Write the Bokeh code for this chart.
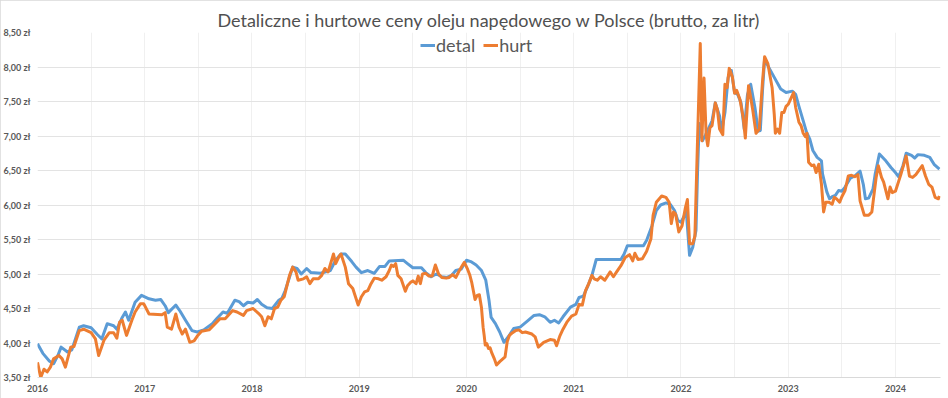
from bokeh.plotting import figure
from bokeh.models import FixedTicker, Range1d, Legend, LegendItem
from bokeh.embed import file_html
from bokeh.resources import INLINE

# ---------------- data (decimal years, PLN per litre) ----------------
detal_t = [2016.00, 2016.05, 2016.11, 2016.15, 2016.19, 2016.22, 2016.28, 2016.32, 2016.39, 2016.43,
           2016.50, 2016.56, 2016.60, 2016.65, 2016.71, 2016.74, 2016.79, 2016.82, 2016.85, 2016.91,
           2016.97, 2017.04, 2017.10, 2017.15, 2017.19, 2017.22, 2017.29, 2017.33, 2017.38, 2017.44,
           2017.49, 2017.55, 2017.63, 2017.67, 2017.73, 2017.77, 2017.84, 2017.88, 2017.92, 2017.96,
           2018.01, 2018.05, 2018.09, 2018.14, 2018.19, 2018.25, 2018.28, 2018.31, 2018.38, 2018.42,
           2018.46, 2018.51, 2018.55, 2018.64, 2018.73, 2018.78, 2018.83, 2018.87, 2018.93, 2018.97,
           2019.02, 2019.08, 2019.14, 2019.19, 2019.24, 2019.28, 2019.41, 2019.45, 2019.50, 2019.58,
           2019.62, 2019.67, 2019.72, 2019.77, 2019.82, 2019.86, 2019.90, 2019.95, 2020.00, 2020.04,
           2020.09, 2020.14, 2020.18, 2020.21, 2020.23, 2020.27, 2020.31, 2020.35, 2020.39, 2020.44,
           2020.50, 2020.57, 2020.63, 2020.68, 2020.73, 2020.78, 2020.82, 2020.86, 2020.90, 2020.97,
           2021.02, 2021.05, 2021.09, 2021.13, 2021.17, 2021.21, 2021.40, 2021.44, 2021.47, 2021.50,
           2021.65, 2021.68, 2021.73, 2021.77, 2021.81, 2021.86, 2021.90, 2021.94, 2021.97, 2022.00,
           2022.05, 2022.08, 2022.11, 2022.14, 2022.155, 2022.17, 2022.20, 2022.23, 2022.29, 2022.32,
           2022.36, 2022.38, 2022.41, 2022.44, 2022.47, 2022.50, 2022.53, 2022.56, 2022.59, 2022.62,
           2022.65, 2022.69, 2022.72, 2022.74, 2022.76, 2022.78, 2022.81, 2022.87, 2022.93, 2022.98,
           2023.04, 2023.07, 2023.10, 2023.14, 2023.17, 2023.20, 2023.23, 2023.27, 2023.31, 2023.32,
           2023.36, 2023.385, 2023.41, 2023.44, 2023.47, 2023.50, 2023.53, 2023.58, 2023.62, 2023.67,
           2023.70, 2023.72, 2023.75, 2023.79, 2023.81, 2023.85, 2023.91, 2023.96, 2024.00, 2024.03,
           2024.07, 2024.10, 2024.15, 2024.18, 2024.21, 2024.27, 2024.32, 2024.36, 2024.41]
detal_v = [3.99, 3.85, 3.74, 3.70, 3.82, 3.94, 3.87, 3.90, 4.23, 4.25,
           4.22, 4.12, 4.06, 4.28, 4.25, 4.20, 4.37, 4.45, 4.33, 4.59,
           4.69, 4.64, 4.62, 4.63, 4.54, 4.44, 4.55, 4.46, 4.33, 4.18,
           4.16, 4.19, 4.28, 4.35, 4.45, 4.43, 4.62, 4.60, 4.54, 4.59,
           4.58, 4.63, 4.56, 4.51, 4.50, 4.62, 4.65, 4.76, 5.10, 5.08,
           5.00, 5.08, 5.02, 5.01, 5.05, 5.20, 5.29, 5.29, 5.18, 5.10,
           5.02, 5.05, 5.01, 5.11, 5.11, 5.19, 5.20, 5.15, 5.09, 5.09,
           5.02, 4.96, 5.00, 4.96, 4.95, 4.98, 5.05, 5.07, 5.20, 5.18,
           5.13, 5.05, 4.91, 4.62, 4.37, 4.28, 4.16, 4.01, 4.09, 4.21,
           4.23, 4.32, 4.40, 4.41, 4.38, 4.30, 4.33, 4.29, 4.38, 4.52,
           4.56, 4.66, 4.68, 4.82, 4.98, 5.21, 5.21, 5.21, 5.29, 5.41,
           5.41, 5.49, 5.70, 5.92, 6.00, 6.03, 6.01, 5.92, 5.78, 5.75,
           5.90, 5.27, 5.39, 5.63, 6.50, 7.18, 6.93, 7.02, 7.22, 7.48,
           7.29, 7.07, 7.34, 7.85, 7.95, 7.63, 7.60, 7.48, 7.10, 7.60,
           7.75, 7.41, 7.07, 7.08, 7.65, 8.12, 8.02, 7.85, 7.68, 7.63,
           7.65, 7.60, 7.43, 7.22, 7.06, 6.96, 6.79, 6.69, 6.64, 6.45,
           6.19, 6.09, 6.12, 6.14, 6.21, 6.20, 6.26, 6.39, 6.42, 6.49,
           6.30, 6.09, 6.10, 6.23, 6.44, 6.74, 6.64, 6.54, 6.47, 6.41,
           6.57, 6.75, 6.72, 6.68, 6.73, 6.72, 6.69, 6.59, 6.52]

hurt_t = [2016.00, 2016.03, 2016.06, 2016.09, 2016.12, 2016.15, 2016.20, 2016.23, 2016.26, 2016.31,
          2016.34, 2016.39, 2016.43, 2016.50, 2016.54, 2016.57, 2016.62, 2016.67, 2016.71, 2016.74,
          2016.765, 2016.79, 2016.83, 2016.88, 2016.91, 2016.96, 2016.99, 2017.04, 2017.16, 2017.19,
          2017.21, 2017.25, 2017.29, 2017.32, 2017.35, 2017.38, 2017.42, 2017.46, 2017.49, 2017.53,
          2017.60, 2017.70, 2017.75, 2017.82, 2017.86, 2017.92, 2017.95, 2018.01, 2018.06, 2018.09,
          2018.12, 2018.15, 2018.18, 2018.21, 2018.24, 2018.27, 2018.30, 2018.35, 2018.38, 2018.41,
          2018.43, 2018.48, 2018.51, 2018.54, 2018.57, 2018.62, 2018.65, 2018.68, 2018.71, 2018.76,
          2018.78, 2018.81, 2018.83, 2018.87, 2018.90, 2018.94, 2018.99, 2019.02, 2019.05, 2019.08,
          2019.11, 2019.14, 2019.18, 2019.21, 2019.25, 2019.28, 2019.30, 2019.32, 2019.34, 2019.36,
          2019.39, 2019.43, 2019.45, 2019.48, 2019.50, 2019.53, 2019.55, 2019.57, 2019.59, 2019.62,
          2019.65, 2019.68, 2019.71, 2019.74, 2019.77, 2019.81, 2019.84, 2019.87, 2019.90, 2019.93,
          2019.96, 2019.98, 2020.01, 2020.03, 2020.05, 2020.08, 2020.10, 2020.12, 2020.14, 2020.155,
          2020.165, 2020.175, 2020.19, 2020.205, 2020.22, 2020.235, 2020.26, 2020.28, 2020.31, 2020.36,
          2020.38, 2020.40, 2020.43, 2020.46, 2020.49, 2020.52, 2020.55, 2020.61, 2020.64, 2020.67,
          2020.72, 2020.78, 2020.82, 2020.84, 2020.87, 2020.90, 2020.94, 2020.98, 2021.02, 2021.05,
          2021.08, 2021.11, 2021.14, 2021.17, 2021.19, 2021.22, 2021.25, 2021.29, 2021.34, 2021.37,
          2021.40, 2021.44, 2021.48, 2021.52, 2021.55, 2021.57, 2021.60, 2021.64, 2021.68, 2021.72,
          2021.74, 2021.77, 2021.82, 2021.86, 2021.89, 2021.91, 2021.93, 2021.95, 2021.98, 2022.01,
          2022.04, 2022.06, 2022.08, 2022.11, 2022.13, 2022.15, 2022.18, 2022.195, 2022.215, 2022.235,
          2022.25, 2022.27, 2022.29, 2022.32, 2022.34, 2022.36, 2022.39, 2022.41, 2022.43, 2022.45,
          2022.48, 2022.50, 2022.52, 2022.55, 2022.58, 2022.60, 2022.63, 2022.65, 2022.67, 2022.70,
          2022.73, 2022.76, 2022.78, 2022.81, 2022.85, 2022.87, 2022.88, 2022.90, 2022.92, 2022.94,
          2022.96, 2022.98, 2023.00, 2023.05, 2023.07, 2023.10, 2023.12, 2023.14, 2023.16, 2023.175,
          2023.19, 2023.22, 2023.24, 2023.26, 2023.285, 2023.31, 2023.33, 2023.35, 2023.38, 2023.41,
          2023.43, 2023.45, 2023.48, 2023.50, 2023.53, 2023.56, 2023.59, 2023.62, 2023.65, 2023.67,
          2023.71, 2023.75, 2023.78, 2023.82, 2023.84, 2023.87, 2023.89, 2023.93, 2023.95, 2023.97,
          2024.00, 2024.05, 2024.10, 2024.13, 2024.16, 2024.19, 2024.25, 2024.28, 2024.31, 2024.34,
          2024.37, 2024.40, 2024.41]
hurt_v = [3.72, 3.50, 3.62, 3.58, 3.65, 3.77, 3.82, 3.77, 3.65, 3.94,
          3.95, 4.18, 4.20, 4.15, 4.06, 3.82, 4.04, 4.15, 4.15, 4.07,
          4.30, 4.33, 4.11, 4.33, 4.45, 4.57, 4.57, 4.42, 4.41, 4.44,
          4.23, 4.20, 4.42, 4.23, 4.13, 4.20, 4.01, 4.03, 4.10, 4.17,
          4.19, 4.35, 4.35, 4.47, 4.45, 4.40, 4.47, 4.50, 4.43, 4.38,
          4.25, 4.38, 4.35, 4.50, 4.52, 4.62, 4.67, 4.98, 5.10, 5.03,
          4.91, 4.93, 4.96, 4.86, 4.93, 4.93, 4.98, 5.08, 5.03, 5.29,
          5.15, 5.25, 5.29, 5.10, 4.86, 4.79, 4.55, 4.67, 4.74, 4.76,
          4.86, 4.94, 4.93, 4.91, 4.96, 5.05, 5.13, 5.11, 5.15, 4.98,
          4.93, 4.75, 4.83, 4.88, 4.90, 4.86, 4.97, 4.86, 5.00, 5.01,
          4.97, 4.97, 5.13, 5.00, 4.95, 4.94, 4.95, 4.99, 4.95, 5.04,
          5.12, 5.17, 5.07, 4.99, 4.87, 4.63, 4.69, 4.70, 4.51, 4.23,
          4.11, 3.97, 3.99, 3.92, 3.93, 3.86, 3.77, 3.68, 3.73, 3.80,
          4.02, 4.11, 4.15, 4.18, 4.19, 4.15, 4.16, 4.13, 4.09, 3.94,
          4.01, 4.05, 4.04, 3.96, 4.10, 4.20, 4.31, 4.39, 4.42, 4.56,
          4.55, 4.76, 4.86, 4.98, 4.93, 4.91, 4.96, 4.91, 5.03, 4.96,
          5.03, 5.12, 5.24, 5.28, 5.19, 5.30, 5.21, 5.22, 5.33, 5.51,
          5.85, 6.04, 6.13, 6.11, 6.04, 5.73, 5.90, 5.87, 5.61, 5.70,
          5.95, 6.08, 5.44, 5.44, 5.55, 6.69, 8.34, 6.93, 7.84, 7.00,
          6.86, 7.12, 7.15, 7.48, 7.38, 7.10, 7.02, 7.75, 7.70, 7.98,
          7.85, 7.62, 7.66, 7.53, 7.27, 6.97, 7.73, 7.56, 7.37, 7.04,
          7.10, 7.78, 8.15, 8.05, 7.70, 7.31, 7.04, 7.10, 7.04, 7.34,
          7.34, 7.43, 7.46, 7.63, 7.41, 7.20, 7.15, 7.04, 6.99, 7.04,
          6.62, 6.57, 6.58, 6.47, 6.59, 6.30, 5.90, 6.04, 6.04, 6.01,
          6.11, 6.09, 6.04, 6.12, 6.21, 6.42, 6.43, 6.41, 6.44, 6.06,
          5.85, 5.85, 5.90, 6.40, 6.57, 6.40, 6.33, 6.09, 6.26, 6.18,
          6.20, 6.44, 6.71, 6.42, 6.40, 6.44, 6.57, 6.42, 6.30, 6.26,
          6.11, 6.09, 6.13]

x_ticks = [2016, 2017, 2018, 2019, 2020, 2021, 2022, 2023, 2024]
x_tick_labels = ["2016", "2017", "2018", "2019", "2020", "2021", "2022", "2023", "2024"]
y_ticks = [3.5, 4.0, 4.5, 5.0, 5.5, 6.0, 6.5, 7.0, 7.5, 8.0, 8.5]
y_tick_labels = ["3,50 zł", "4,00 zł", "4,50 zł", "5,00 zł", "5,50 zł", "6,00 zł",
                 "6,50 zł", "7,00 zł", "7,50 zł", "8,00 zł", "8,50 zł"]
title_text = "Detaliczne i hurtowe ceny oleju napędowego w Polsce (brutto, za litr)"

BLUE = "#5b9bd5"
ORANGE = "#ed7d31"
GREY = "#595959"

W, H = 948, 398
p = figure(width=W, height=H, output_backend="svg", toolbar_location=None,
           x_range=Range1d(2016, 2024.42), y_range=Range1d(3.5, 8.5),
           min_border_left=35, min_border_right=8, min_border_top=32, min_border_bottom=21,
           title=title_text)
p.styles = {"outline": "1px solid #d9d9d9", "outline-offset": "-1px"}

p.title.align = "center"
p.title.text_font = "Lato"
p.title.text_font_size = "18px"
p.title.text_font_style = "normal"
p.title.text_color = "#505050"
p.title.standoff = 4
p.title.offset = -7

p.outline_line_color = None
p.background_fill_color = "white"
p.border_fill_color = "white"

# axes
p.xaxis.ticker = FixedTicker(ticks=x_ticks)
p.xaxis.major_label_overrides = {t: l for t, l in zip(x_ticks, x_tick_labels)}
p.yaxis.ticker = FixedTicker(ticks=y_ticks)
p.yaxis.major_label_overrides = {t: l for t, l in zip(y_ticks, y_tick_labels)}
for ax in (p.xaxis, p.yaxis):
    ax.major_tick_line_color = None
    ax.minor_tick_line_color = None
    ax.major_tick_out = 0
    ax.major_tick_in = 0
    ax.minor_tick_out = 0
    ax.minor_tick_in = 0
    ax.major_label_text_font = "Lato"
    ax.major_label_text_font_style = "bold"
    ax.major_label_text_font_size = "9px"
    ax.major_label_text_color = GREY
p.yaxis.axis_line_color = None
p.xaxis.axis_line_color = "#d9d9d9"
p.yaxis.major_label_standoff = 7
p.xaxis.major_label_standoff = 7

# grids
p.ygrid.ticker = FixedTicker(ticks=y_ticks)
p.ygrid.grid_line_color = "#e3e3e3"
p.ygrid.grid_line_width = 1
half_years = [2016 + 0.5 * i for i in range(17)]
p.xgrid.ticker = FixedTicker(ticks=half_years)
p.xgrid.grid_line_color = "#f0f0f0"
p.xgrid.grid_line_width = 1

r_detal = p.line(detal_t, detal_v, line_color=BLUE, line_width=3, line_join="round")
r_hurt = p.line(hurt_t, hurt_v, line_color=ORANGE, line_width=3, line_join="round")

# legend: bottom-left corner given in screen px relative to the frame
frame_h = H - 32 - 21
legend = Legend(items=[LegendItem(label="detal", renderers=[r_detal]),
                       LegendItem(label="hurt", renderers=[r_hurt])],
                location=(383, frame_h - 24), orientation="horizontal")
legend.label_text_font = "Lato"
legend.label_text_font_size = "18px"
legend.label_text_color = GREY
legend.glyph_width = 15
legend.label_standoff = 1
legend.spacing = 8
legend.padding = 0
legend.margin = 0
legend.border_line_color = None
legend.background_fill_alpha = 0
p.add_layout(legend, "center")

open("out.html", "w").write(file_html(p, INLINE))
